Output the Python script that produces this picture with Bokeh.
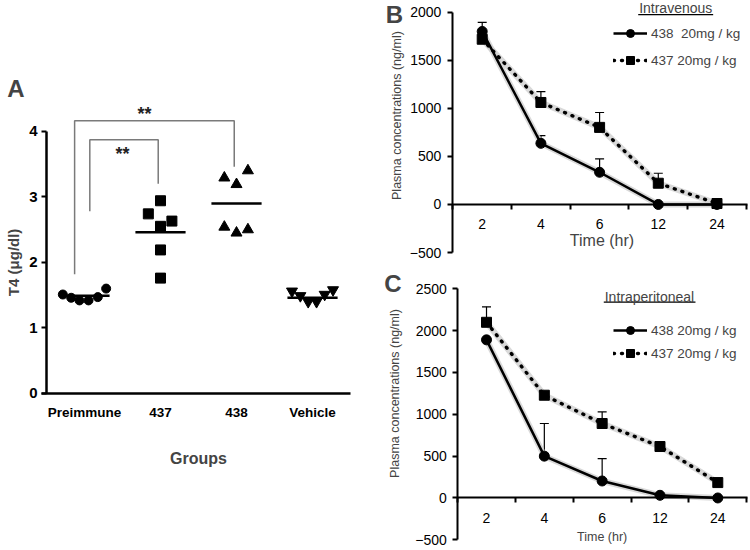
import math
from bokeh.plotting import figure
from bokeh.layouts import row, column
from bokeh.models import (ColumnDataSource, Range1d, FixedTicker, Label, Legend,
                          LegendItem, Whisker, TeeHead)
from bokeh.core.properties import value
from bokeh.embed import file_html
from bokeh.resources import INLINE

# ---------------- Panel A data ----------------
groups = ["Preimmune", "437", "438", "Vehicle"]
pre_vals = [1.51, 1.46, 1.42, 1.42, 1.47, 1.60]
pre_off = [-0.285, -0.175, -0.066, 0.053, 0.175, 0.285]
g437_vals = [2.74, 2.94, 2.55, 2.63, 2.19, 1.76]
g437_off = [-0.16, 0.0, 0.0, 0.15, 0.0, 0.0]
g438_vals = [3.29, 3.19, 3.40, 2.54, 2.45, 2.50]
g438_off = [-0.16, 0.0, 0.15, -0.16, 0.0, 0.15]
veh_vals = [1.56, 1.49, 1.40, 1.40, 1.51, 1.58]
veh_off = [-0.27, -0.16, -0.057, 0.053, 0.16, 0.27]
group_means = [1.49, 2.46, 2.90, 1.46]
a_yticks = [0, 1, 2, 3, 4]
# significance brackets
br_left = [0.87, 1.07]
br_right = [2.97, 1.97]
br_left_foot = [1.82, 2.78]
br_right_foot = [3.46, 3.20]
br_top = [4.16, 3.87]
star_x = [1.79, 1.50]
star_y = [4.27, 3.65]
star_txt = ["**", "**"]

# ---------------- Panel B / C data ----------------
times = ["2", "4", "6", "12", "24"]
iv_438 = [1800, 636, 335, 0, 0]
iv_438_err = [95, 80, 139, 0, 0]
iv_437 = [1719, 1061, 802, 221, 10]
iv_437_err = [0, 114, 155, 104, 0]
ip_438 = [1890, 500, 203, 32, 0]
ip_438_err = [0, 390, 268, 0, 0]
ip_437 = [2100, 1228, 890, 615, 184]
ip_437_err = [185, 0, 139, 0, 0]
b_yticks = [-500, 0, 500, 1000, 1500, 2000]
c_yticks = [-500, 0, 500, 1000, 1500, 2000, 2500]

SANS = "Liberation Sans"


def bare(p):
    p.xgrid.visible = False
    p.ygrid.visible = False
    p.outline_line_color = None
    for ax in (p.xaxis, p.yaxis):
        ax.major_tick_in = 0
        ax.minor_tick_in = 0
        ax.minor_tick_out = 0
        ax.major_label_text_color = "black"
        ax.axis_line_color = "black"


# ================= Panel A =================
pA = figure(width=378, height=549, x_range=Range1d(-0.105, 4.868), y_range=Range1d(-2.38, 5.995),
            output_backend="svg", toolbar_location=None,
            min_border_left=0, min_border_right=0, min_border_top=0, min_border_bottom=0)
bare(pA)

pos = [i + 1 for i in range(len(groups))]
series = [(pre_vals, pre_off, "circle", 9), (g437_vals, g437_off, "square", 10),
          (g438_vals, g438_off, "triangle", 11), (veh_vals, veh_off, "inverted_triangle", 11)]
for gpos, (vals, offs, mk, sz) in zip(pos, series):
    src = ColumnDataSource(dict(x=[gpos + o for o in offs], y=vals))
    pA.scatter("x", "y", source=src, marker=mk, size=sz, color="black")

mean_src = ColumnDataSource(dict(x0=[g - 0.33 for g in pos], x1=[g + 0.33 for g in pos],
                                 y=group_means))
pA.segment(x0="x0", y0="y", x1="x1", y1="y", source=mean_src, line_color="black",
           line_width=2.5)

br_src = ColumnDataSource(dict(
    xs=[[l, l, r, r] for l, r in zip(br_left, br_right)],
    ys=[[lf, t, t, rf] for lf, t, rf in zip(br_left_foot, br_top, br_right_foot)]))
pA.multi_line("xs", "ys", source=br_src, line_color="#7a7a7a", line_width=1.5)
pA.text(x=star_x, y=star_y, text=star_txt, text_align="center", text_baseline="middle",
        text_font=value(SANS), text_font_style="bold", text_font_size="18px",
        text_color="#222222")

pA.xaxis.fixed_location = 0
pA.xaxis.bounds = (0.43, 4.5)
pA.xaxis.ticker = FixedTicker(ticks=pos)
pA.xaxis.major_label_overrides = {g: name for g, name in zip(pos, groups)}
pA.xaxis.major_tick_out = 0
pA.xaxis.axis_line_width = 2.5
pA.xaxis.major_label_standoff = 12
pA.xaxis.major_label_text_font = SANS
pA.xaxis.major_label_text_font_style = "bold"
pA.xaxis.major_label_text_font_size = "13.5px"

pA.yaxis.fixed_location = 0.5
pA.yaxis.ticker = FixedTicker(ticks=a_yticks)
pA.yaxis.bounds = (0, 4)
pA.yaxis.major_tick_out = 5
pA.yaxis.axis_line_width = 2.5
pA.yaxis.major_tick_line_width = 2
pA.yaxis.major_label_standoff = 4
pA.yaxis.major_label_text_font = SANS
pA.yaxis.major_label_text_font_style = "bold"
pA.yaxis.major_label_text_font_size = "15px"

pA.add_layout(Label(x=2.5, y=-0.99, text="Groups", text_font=SANS, text_font_style="bold",
                    text_font_size="16px", text_align="center", text_baseline="middle"))
pA.add_layout(Label(x=0.066, y=2.0, text="T4 (\u03bcg/dl)", angle=math.pi / 2,
                    text_font=SANS, text_font_style="bold", text_font_size="15px",
                    text_align="center", text_baseline="middle"))
pA.add_layout(Label(x=0.099, y=4.66, text="A", text_font=SANS, text_font_style="bold",
                    text_font_size="24px", text_align="center", text_baseline="middle"))


# ================= Panels B / C =================
def pk_panel(width, height, xr, yr, ax_x, ybounds, xbounds, yticks, d438, e438, d437, e437,
             title_txt, title_xy, ul_x, ul_y, panel_letter, letter_xy, time_xy, time_size,
             ylab_xy, leg_loc, leg_spacing, leg_labels):
    p = figure(width=width, height=height, x_range=Range1d(*xr), y_range=Range1d(*yr),
               output_backend="svg", toolbar_location=None,
               min_border_left=0, min_border_right=0, min_border_top=0, min_border_bottom=0)
    bare(p)
    xs = list(range(len(times)))

    # soft shadow under the curves
    p.line(xs, d437, line_color="#cfcfcf", line_width=6, line_alpha=0.8)
    p.line(xs, d438, line_color="#cfcfcf", line_width=6, line_alpha=0.8)

    l437 = p.line(xs, d437, line_color="black", line_width=3.4, line_dash="1 7",
                  line_cap="round")
    l438 = p.line(xs, d438, line_color="black", line_width=2.5)

    for d, e in ((d438, e438), (d437, e437)):
        keep = [i for i in xs if e[i] > 0]
        wsrc = ColumnDataSource(dict(base=[xs[i] for i in keep], lower=[d[i] for i in keep],
                                     upper=[d[i] + e[i] for i in keep]))
        w = Whisker(base="base", lower="lower", upper="upper", source=wsrc,
                    dimension="height", line_color="black", line_width=1.2,
                    upper_head=TeeHead(size=9, line_color="black", line_width=1.2),
                    lower_head=None)
        p.add_layout(w)

    s437 = p.scatter(xs, d437, marker="square", size=10, color="black")
    s438 = p.scatter(xs, d438, marker="circle", size=10, color="black")

    leg = Legend(items=[LegendItem(label=leg_labels[0], renderers=[l438, s438]),
                        LegendItem(label=leg_labels[1], renderers=[l437, s437])],
                 location=leg_loc, padding=0, margin=0, spacing=leg_spacing,
                 glyph_width=34, glyph_height=20, label_height=20, label_standoff=4,
                 border_line_color=None, background_fill_alpha=0,
                 label_text_font=SANS, label_text_font_size="13.5px")
    p.add_layout(leg)

    p.xaxis.fixed_location = 0
    p.xaxis.bounds = xbounds
    p.xaxis.ticker = FixedTicker(ticks=xs, minor_ticks=[x - 0.5 for x in xs] + [xs[-1] + 0.5])
    p.xaxis.major_label_overrides = {x: t for x, t in zip(xs, times)}
    p.xaxis.major_tick_out = 0
    p.xaxis.minor_tick_out = 5
    p.xaxis.minor_tick_line_width = 2
    p.xaxis.axis_line_width = 2
    p.xaxis.major_label_standoff = 10
    p.xaxis.major_label_text_font = SANS
    p.xaxis.major_label_text_font_size = "14px"

    p.yaxis.fixed_location = ax_x
    p.yaxis.ticker = FixedTicker(ticks=yticks)
    p.yaxis.bounds = ybounds
    p.yaxis.major_tick_out = 5
    p.yaxis.major_tick_line_width = 2
    p.yaxis.axis_line_width = 2
    p.yaxis.major_label_standoff = 6
    p.yaxis.major_label_text_font = SANS
    p.yaxis.major_label_text_font_size = "14px"

    p.add_layout(Label(x=ylab_xy[0], y=ylab_xy[1], text="Plasma concentrations (ng/ml)",
                       angle=math.pi / 2, text_font=SANS, text_font_size="12.5px",
                       text_align="center", text_baseline="middle"))
    p.add_layout(Label(x=title_xy[0], y=title_xy[1], text=title_txt, text_font=SANS,
                       text_font_size="14px", text_align="center", text_baseline="middle"))
    p.line(ul_x, [ul_y, ul_y], line_color="black", line_width=1.2)
    p.add_layout(Label(x=letter_xy[0], y=letter_xy[1], text=panel_letter, text_font=SANS,
                       text_font_style="bold", text_font_size="24px", text_align="center",
                       text_baseline="middle"))
    p.add_layout(Label(x=time_xy[0], y=time_xy[1], text="Time (hr)", text_font=SANS,
                       text_font_size=time_size, text_align="center",
                       text_baseline="middle"))
    return p


pB = pk_panel(370, 270, (-1.767, 4.537), (-687, 2122), -0.51, (-500, 2000), (-0.51, 4.52),
              b_yticks, iv_438, iv_438_err, iv_437, iv_437_err,
              "Intravenous", (3.297, 2044), [2.658, 3.935], 1976, "B", (-1.495, 1981),
              (2.041, -375), "16px", (-1.444, 925), (235, 200), 7,
              ["438  20mg / kg", "437 20mg / kg"])

pC = pk_panel(370, 279, (-1.868, 4.531), (-616, 2719), -0.496, (-500, 2500), (-0.496, 4.51),
              c_yticks, ip_438, ip_438_err, ip_437, ip_437_err,
              "Intraperitoneal", (2.818, 2400), [2.028, 3.614], 2340, "C", (-1.617, 2558),
              (2.0, -469), "12.5px", (-1.574, 1249), (235, 186), 3,
              ["438 20mg / kg", "437 20mg / kg"])

layout = row(pA, column(pB, pC))
open("out.html", "w").write(file_html(layout, INLINE))
